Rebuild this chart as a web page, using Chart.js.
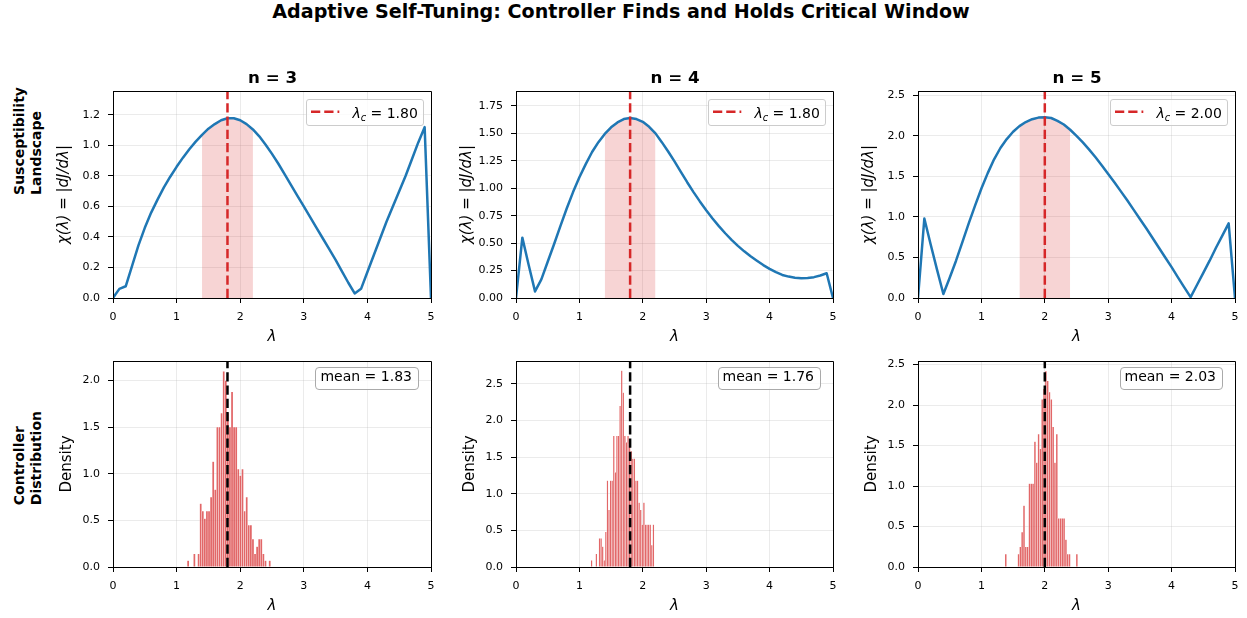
<!DOCTYPE html>
<html>
<head>
<meta charset="utf-8">
<script src="https://cdn.jsdelivr.net/npm/chart.js@4.4.1/dist/chart.umd.min.js"></script>
<style>
html,body{margin:0;padding:0;background:#fff;}
body{position:relative;width:1247px;height:618px;overflow:hidden;font-family:"DejaVu Sans",sans-serif;color:#000;}
canvas{position:absolute;}
.txt{position:absolute;white-space:nowrap;line-height:1;}
.sup{font-weight:bold;font-size:19.1px;left:621px;top:2.2px;transform:translateX(-50%);}
.ptitle{font-weight:bold;font-size:16.7px;top:68.6px;transform:translateX(-50%);}
.row{position:absolute;font-weight:bold;font-size:14px;line-height:17.4px;writing-mode:vertical-rl;transform:rotate(180deg);white-space:pre;text-align:start;}
.leg{position:absolute;box-sizing:border-box;background:rgba(255,255,255,0.8);border:1px solid #ccc;border-radius:3px;font-size:14px;z-index:5;}
.tbox{position:absolute;box-sizing:border-box;background:rgba(255,255,255,0.8);border:1px solid #aaa;border-radius:4px;font-size:14px;z-index:5;}
.leg span,.tbox span{position:absolute;white-space:nowrap;line-height:1;}
</style>
</head>
<body>
<div class="txt sup">Adaptive Self-Tuning: Controller Finds and Holds Critical Window</div>
<div class="row" style="left:11px;bottom:423px;">Susceptibility
Landscape</div>
<div class="row" style="left:11px;bottom:113px;">Controller
Distribution</div>
<script>
// ---------------- data ----------------
const lambdaGrid = [0.0,0.1,0.2,0.3,0.4,0.5,0.6,0.7,0.8,0.9,1.0,1.1,1.2,1.3,1.4,1.5,1.6,1.7,1.8,1.9,2.0,2.1,2.2,2.3,2.4,2.5,2.6,2.7,2.8,2.9,3.0,3.1,3.2,3.3,3.4,3.5,3.6,3.7,3.8,3.9,4.0,4.1,4.2,4.3,4.4,4.5,4.6,4.7,4.8,4.9,5.0];
const chiN3 = [0,0.06,0.077,0.21,0.345,0.46,0.56,0.645,0.725,0.795,0.86,0.92,0.975,1.025,1.07,1.11,1.14,1.165,1.178,1.178,1.165,1.14,1.105,1.06,1.005,0.945,0.88,0.81,0.74,0.67,0.60,0.53,0.46,0.39,0.32,0.25,0.175,0.10,0.03,0.06,0.17,0.28,0.39,0.50,0.60,0.70,0.80,0.91,1.02,1.12,0];
const chiN4 = [0,0.55,0.30,0.06,0.17,0.33,0.49,0.655,0.815,0.965,1.10,1.22,1.33,1.42,1.495,1.555,1.60,1.63,1.64,1.63,1.605,1.56,1.50,1.42,1.335,1.245,1.15,1.055,0.965,0.88,0.80,0.725,0.655,0.59,0.53,0.475,0.425,0.38,0.34,0.30,0.265,0.235,0.21,0.195,0.185,0.18,0.182,0.19,0.205,0.225,0];
const chiN5 = [0,0.98,0.66,0.35,0.05,0.25,0.46,0.69,0.92,1.14,1.35,1.54,1.71,1.85,1.96,2.05,2.12,2.17,2.205,2.225,2.23,2.22,2.185,2.14,2.075,2.00,1.92,1.83,1.735,1.635,1.53,1.425,1.315,1.205,1.09,0.975,0.86,0.74,0.62,0.50,0.38,0.255,0.13,0.01,0.16,0.31,0.46,0.62,0.77,0.92,0];
const lambdaCrit = [1.80, 1.80, 2.00];
const critHalfWidth = 0.4;
const panelNames = ['n = 3', 'n = 4', 'n = 5'];
const histRangeN3 = [1.165, 2.48];
const histRangeN4 = [1.18, 2.18];
const histRangeN5 = [1.37, 2.52];
const densN3 = [0.07,0,0,0.14,0,0.14,0.68,0.60,0.52,0.60,0.60,0.75,1.13,0.83,1.50,1.50,1.65,2.10,2.00,1.65,1.50,1.88,1.50,1.50,1.05,0.98,1.05,0.60,0.75,0.45,0.45,0.30,0.14,0.22,0.30,0.30,0.14,0.07,0,0.07];
const densN4 = [0.09,0,0,0.18,0,0.39,0.39,0.28,0.09,0.48,1.18,0.78,1.18,1.18,1.79,1.29,1.79,1.79,2.2,2.68,2.38,1.79,1.7,1.79,1.68,1.58,1.48,1.48,1.18,1.18,0.88,0.78,0.58,0.88,0.58,0.58,0.58,0.58,0.3,0.58];
const densN5 = [0.16,0,0,0,0,0,0,0.16,0.25,0.43,0.76,0.25,0.25,1.03,1.03,1.03,1.55,1.29,1.64,1.46,2.07,2.2,2.42,2.3,2.16,2.07,1.73,1.29,1.64,0.6,0.6,0.6,0.6,0.34,0.16,0.16,0,0,0,0.16];
const controllerMeans = [1.83, 1.76, 2.03];
const xTickVals = [0, 1, 2, 3, 4, 5];
const chiTicksN3 = [0, 0.2, 0.4, 0.6, 0.8, 1.0, 1.2];
const chiTicksN4 = [0, 0.25, 0.5, 0.75, 1.0, 1.25, 1.5, 1.75];
const chiTicksN5 = [0, 0.5, 1.0, 1.5, 2.0, 2.5];
const densTicksN3 = [0, 0.5, 1.0, 1.5, 2.0];
const densTicksN4 = [0, 0.5, 1.0, 1.5, 2.0, 2.5];
const densTicksN5 = [0, 0.5, 1.0, 1.5, 2.0, 2.5];
const chiYMax = [1.357, 1.886, 2.553];
const densYMax = [2.21, 2.81, 2.544];

// ---------------- layout / style ----------------
const FONT = '"DejaVu Sans", sans-serif';
const GRID = 'rgba(176,176,176,0.32)';
const colL = [113, 516, 918], colW = [319, 318, 318];
const rowT = [91, 361], rowH = [207, 206];
const PADL = 70, PADR = 10, PADT = 20, XAX = 50;

Chart.defaults.font.family = FONT;
Chart.defaults.color = '#000';

const framePlugin = {
  id: 'frame',
  afterDatasetsDraw(chart) {
    const {ctx, chartArea: a} = chart;
    const al = v => Math.round(v - 0.5) + 0.5;
    ctx.save();
    ctx.strokeStyle = '#000';
    ctx.lineWidth = 1;
    ctx.beginPath();
    ctx.moveTo(al(a.left), al(a.top)); ctx.lineTo(al(a.right), al(a.top));
    ctx.lineTo(al(a.right), al(a.bottom)); ctx.lineTo(al(a.left), al(a.bottom));
    ctx.closePath();
    ctx.stroke();
    ctx.restore();
  }
};

function makeCanvas(c, r) {
  const cv = document.createElement('canvas');
  cv.width = colW[c] + PADL + PADR;
  cv.height = rowH[r] + PADT + XAX;
  cv.style.left = (colL[c] - PADL) + 'px';
  cv.style.top = (rowT[r] - PADT) + 'px';
  document.body.appendChild(cv);
  return cv;
}

function xScale() {
  return {
    type: 'linear', min: 0, max: 5, offset: false,
    afterBuildTicks: s => { s.ticks = xTickVals.map(v => ({value: v})); },
    afterFit: s => { s.height = XAX; },
    ticks: {font: {family: FONT, size: 11}, color: '#000', padding: 7.5, maxRotation: 0, autoSkip: false, callback: v => String(v)},
    grid: {color: GRID, lineWidth: 0.8, tickColor: '#000', tickLength: 5, tickWidth: 1, offset: false},
    border: {color: '#000', width: 1},
    title: {display: true, text: 'λ', font: {family: FONT, size: 15, style: 'italic'}, color: '#000', padding: {top: 0, bottom: 2}}
  };
}

function yScale(max, ticks, dec, title, italic, padTop) {
  return {
    type: 'linear', min: 0, max: max,
    afterBuildTicks: s => { s.ticks = ticks.map(v => ({value: v})); },
    afterFit: s => { s.width = PADL; },
    ticks: {font: {family: FONT, size: 11}, color: '#000', padding: 8, autoSkip: false, callback: v => Number(v).toFixed(dec)},
    grid: {color: GRID, lineWidth: 0.8, tickColor: '#000', tickLength: 5, tickWidth: 1},
    border: {color: '#000', width: 1},
    title: {display: true, text: title, font: {family: FONT, size: 15, style: italic ? 'italic' : 'normal'}, color: '#000', padding: {top: padTop, bottom: 0}}
  };
}

const baseOpts = {
  responsive: false, animation: false, events: [],
  layout: {padding: {left: 0, right: PADR, top: PADT, bottom: 0}},
  plugins: {legend: {display: false}, tooltip: {enabled: false}, title: {display: false}}
};

function addText(cls, html, left, top) {
  const d = document.createElement('div');
  d.className = cls; d.innerHTML = html;
  d.style.left = left + 'px'; d.style.top = top + 'px';
  document.body.appendChild(d);
  return d;
}

// ---------------- top row: susceptibility ----------------
const chiSeries = [chiN3, chiN4, chiN5];
const chiTicks = [chiTicksN3, chiTicksN4, chiTicksN5];
const chiDec = [1, 2, 1];
for (let c = 0; c < 3; c++) {
  const cv = makeCanvas(c, 0);
  const lc = lambdaCrit[c];
  const pts = lambdaGrid.map((x, i) => ({x: x, y: chiSeries[c][i]}));
  const band = pts.filter(p => Math.abs(p.x - lc) <= critHalfWidth + 1e-9);
  new Chart(cv, {
    type: 'line',
    data: {datasets: [
      {data: [{x: lc, y: 0}, {x: lc, y: chiYMax[c]}], borderColor: '#d62728', borderWidth: 2.5, borderDash: [9.25, 4], pointRadius: 0, fill: false, order: 0},
      {data: pts, borderColor: '#1f77b4', borderWidth: 2.5, pointRadius: 0, tension: 0, fill: false, borderJoinStyle: 'round', order: 1},
      {data: band, borderWidth: 0, borderColor: 'rgba(0,0,0,0)', backgroundColor: 'rgba(214,39,40,0.2)', fill: 'origin', pointRadius: 0, order: 2}
    ]},
    options: Object.assign({}, baseOpts, {
      scales: {x: xScale(), y: yScale(chiYMax[c], chiTicks[c], chiDec[c], 'χ(λ) = |dJ/dλ|', true, 12)}
    }),
    plugins: [framePlugin]
  });
  addText('txt ptitle', panelNames[c], colL[c] + colW[c] / 2, 68.6);
  const lg = document.createElement('div');
  lg.className = 'leg';
  lg.style.left = (colL[c] + colW[c] - 8.3 - 117.3) + 'px';
  lg.style.top = (rowT[0] + 8) + 'px';
  lg.style.width = '117.3px'; lg.style.height = '26.7px';
  lg.innerHTML = '<svg style="position:absolute;left:4px;top:0" width="30" height="24"><line x1="0" y1="11.7" x2="28.3" y2="11.7" stroke="#d62728" stroke-width="2.5" stroke-dasharray="9.25 4"/></svg>' +
    '<span style="left:45px;top:5.5px;"><i>λ<span style="position:relative;font-size:9.8px;top:3px;">c</span></i> = ' + lc.toFixed(2) + '</span>';
  document.body.appendChild(lg);
}

// ---------------- bottom row: controller distribution ----------------
function binCenters(range, n) {
  const w = (range[1] - range[0]) / n;
  return Array.from({length: n}, (_, i) => range[0] + w * (i + 0.5));
}
const densSeries = [densN3, densN4, densN5];
const histRanges = [histRangeN3, histRangeN4, histRangeN5];
const densTicks = [densTicksN3, densTicksN4, densTicksN5];
for (let c = 0; c < 3; c++) {
  const cv = makeCanvas(c, 1);
  const centers = binCenters(histRanges[c], densSeries[c].length);
  const bars = centers.map((x, i) => ({x: x, y: densSeries[c][i]}));
  const lc = lambdaCrit[c];
  new Chart(cv, {
    type: 'bar',
    data: {datasets: [
      {type: 'line', data: [{x: lc, y: 0}, {x: lc, y: densYMax[c]}], borderColor: '#000', borderWidth: 2.5, borderDash: [9.25, 4], pointRadius: 0, fill: false, order: 0},
      {type: 'bar', data: bars, backgroundColor: 'rgba(214,39,40,0.7)', borderColor: 'rgba(255,255,255,0.55)', borderWidth: 0.5, barPercentage: 1, categoryPercentage: 1, order: 1}
    ]},
    options: Object.assign({}, baseOpts, {
      scales: {x: xScale(), y: yScale(densYMax[c], densTicks[c], 1, 'Density', false, 15)}
    }),
    plugins: [framePlugin]
  });
  const tb = document.createElement('div');
  tb.className = 'tbox';
  tb.style.left = (colL[c] + 0.95 * colW[c] + 2.7 - 103.3) + 'px';
  tb.style.top = (rowT[1] + 0.05 * rowH[1] - 4.3) + 'px';
  tb.style.width = '103.3px'; tb.style.height = '23.3px';
  tb.innerHTML = '<span style="left:4px;top:1.2px;">mean = ' + controllerMeans[c].toFixed(2) + '</span>';
  document.body.appendChild(tb);
}
</script>
</body>
</html>
